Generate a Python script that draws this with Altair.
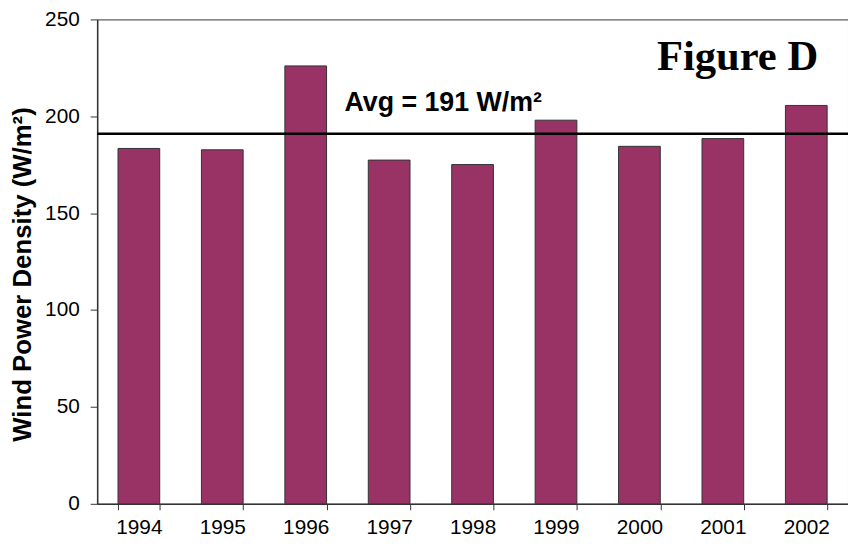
import altair as alt
import pandas as pd

years = ["1994", "1995", "1996", "1997", "1998", "1999", "2000", "2001", "2002"]
density = [183.4, 182.7, 226.0, 177.4, 175.1, 198.0, 184.5, 188.5, 205.6]
avg_value = 191
y_ticks = [0, 50, 100, 150, 200, 250]

bars_df = pd.DataFrame({"year": years, "density": density})
avg_df = pd.DataFrame({"avg": [avg_value]})
avg_label_df = pd.DataFrame({"year": ["1997"], "v": [202.5], "label": ["Avg = 191 W/m\u00b2"]})
fig_label_df = pd.DataFrame({"year": ["2002"], "v": [223.7], "label": ["Figure D"]})

FONT = "Liberation Sans"

x_enc = alt.X(
    "year:N",
    sort=years,
    scale=alt.Scale(paddingInner=0.5, paddingOuter=0.25),
    axis=alt.Axis(
        title=None,
        labelAngle=0,
        labelFont=FONT,
        labelFontSize=21,
        labelColor="black",
        labelPadding=7,
        tickBand="extent",
        tickSize=6,
        tickColor="#333333",
        domainColor="#333333",
        domainWidth=1.5,
    ),
)

y_scale = alt.Scale(domain=[0, 250], nice=False)

bars = alt.Chart(bars_df).mark_bar(
    color="#993366", stroke="#333333", strokeWidth=1
).encode(
    x=x_enc,
    y=alt.Y(
        "density:Q",
        scale=y_scale,
        axis=alt.Axis(
            values=y_ticks,
            title="Wind Power Density (W/m\u00b2)",
            titleFont=FONT,
            titleFontSize=26,
            titleFontWeight="bold",
            titleColor="black",
            titleAngle=270,
            titleBaseline="middle",
            titleAlign="center",
            titleX=-75,
            titleY=257,
            labelFont=FONT,
            labelFontSize=21,
            labelColor="black",
            labelPadding=11,
            tickSize=7,
            tickColor="#333333",
            domainColor="#333333",
            domainWidth=1.5,
            grid=False,
        ),
    ),
)

avg_rule = alt.Chart(avg_df).mark_rule(color="black", strokeWidth=2.5).encode(
    y=alt.Y("avg:Q", scale=y_scale)
)

avg_text = alt.Chart(avg_label_df).mark_text(
    font=FONT, fontSize=27, fontWeight="bold", align="left", baseline="alphabetic",
    color="black", dx=-24
).encode(
    x=alt.X("year:N", sort=years, bandPosition=0),
    y=alt.Y("v:Q", scale=y_scale),
    text="label:N",
)

fig_text = alt.Chart(fig_label_df).mark_text(
    font="Liberation Serif", fontSize=43, fontWeight="bold", align="right",
    baseline="alphabetic", color="black", dx=12
).encode(
    x=alt.X("year:N", sort=years),
    y=alt.Y("v:Q", scale=y_scale),
    text="label:N",
)

chart = (
    alt.layer(bars, avg_rule, avg_text, fig_text)
    .properties(
        width=758,
        height=489,
        padding={"left": 90, "top": 9, "right": 0, "bottom": 33},
        autosize=alt.AutoSizeParams(type="none"),
        background="white",
    )
    .configure_view(stroke="#333333", strokeWidth=1)
)

chart.save("out.html", embed_options={"renderer": "svg", "actions": False})
